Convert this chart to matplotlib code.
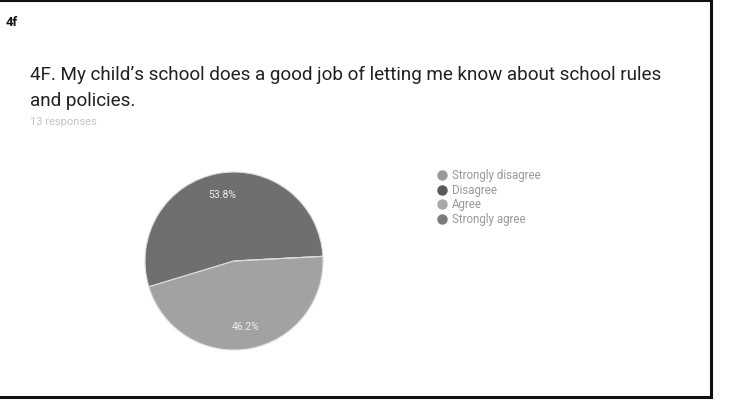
import matplotlib
matplotlib.use("Agg")
import matplotlib.pyplot as plt
from matplotlib.lines import Line2D

# Data
categories = ["Strongly disagree", "Disagree", "Agree", "Strongly agree"]
counts = [0, 7, 6, 0]
total_responses = 13
heading = "4f"
question_lines = ["4F. My child\u2019s school does a good job of letting me know about school rules",
                  "and policies."]

colors = ["#8c8c8c", "#6f6f6f", "#a2a2a2", "#7a7a7a"]
legend_colors = ["#9a9a9a", "#5a5a5a", "#a8a8a8", "#7c7c7c"]

plt.rcParams['font.family'] = ['Roboto', 'DejaVu Sans']

W, H = 729, 400
fig = plt.figure(figsize=(W / 100, H / 100), dpi=100)
fig.patch.set_facecolor("white")

# frame lines (top, right, bottom)
fig.add_artist(Line2D([0, 711 / W], [1 - 1 / H, 1 - 1 / H], color="#111111", lw=1.5))
fig.add_artist(Line2D([711 / W, 711 / W], [1 - 1 / H, 1 - 397 / H], color="#111111", lw=2.2))
fig.add_artist(Line2D([0, 711 / W], [1 - 397 / H, 1 - 397 / H], color="#111111", lw=2.2))

fig.text(6 / W, 1 - 26 / H, heading, fontsize=9.5, fontweight="bold", va="baseline", ha="left",
         color="#111111")
for i, line in enumerate(question_lines):
    fig.text(30 / W, 1 - (80 + 26 * i) / H, line, fontsize=13.6, va="baseline", ha="left",
             color="#202124")
fig.text(30 / W, 1 - 122 / H, f"{total_responses} responses", fontsize=8, va="center", ha="left",
         color="#c4c4c4")

# Pie
cx, cy, r = 234, 261, 89
ax = fig.add_axes([(cx - r) / W, (H - cy - r) / H, 2 * r / W, 2 * r / H])


def fmt(p):
    return f"{p:.1f}%" if p > 0 else ""


wedges, texts, autotexts = ax.pie(counts, colors=colors, startangle=3, counterclock=True,
                                  autopct=fmt, pctdistance=0.75,
                                  wedgeprops=dict(edgecolor="#dddddd", linewidth=0.8),
                                  textprops=dict(color="#eeeeee", fontsize=7.5))
ax.set_xlim(-1, 1)
ax.set_ylim(-1, 1)
ax.set_aspect("equal")
ax.axis("off")

handles = [Line2D([], [], marker="o", linestyle="none", markersize=6.5, markerfacecolor=c,
                  markeredgecolor=c) for c in legend_colors]
fig.legend(handles, categories, loc="upper left", bbox_to_anchor=(436 / W, 1 - 169 / H),
           frameon=False, fontsize=8.3, labelcolor="#999999", handletextpad=0.4,
           labelspacing=0.15, handlelength=1.0, borderaxespad=0, borderpad=0)

fig.savefig("out.png", dpi=100, facecolor="white")
